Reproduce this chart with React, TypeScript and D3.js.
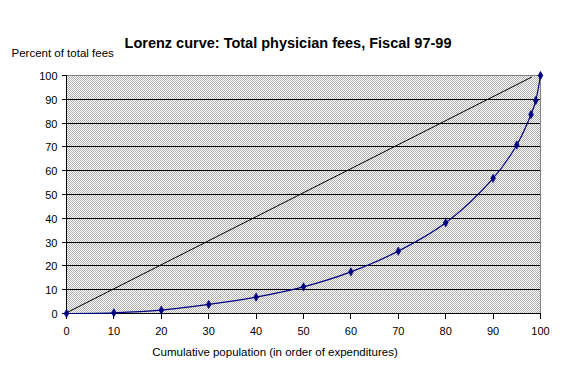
import React from "react";
import * as d3 from "d3";

const populationPct = [0, 10, 20, 30, 40, 50, 60, 70, 80, 90, 95, 98, 99, 100];
const feesPct = [0, 0.3, 1.4, 3.8, 6.9, 11.2, 17.5, 26.2, 38.1, 56.8, 70.8, 83.6, 89.5, 100];
const equalityX = [0, 98.2];
const equalityY = [0.3, 99.4];
const xTicks = [0, 10, 20, 30, 40, 50, 60, 70, 80, 90, 100];
const yTicks = [0, 10, 20, 30, 40, 50, 60, 70, 80, 90, 100];

const W = 563;
const H = 379;
const FONT = "Arial, 'Liberation Sans', Helvetica, sans-serif";

export default function App() {
  const x = d3.scaleLinear().domain([0, 100]).range([66.5, 540.5]);
  const y = d3.scaleLinear().domain([0, 100]).range([313.5, 75.5]);
  const crisp = (v: number) => Math.round(v - 0.5) + 0.5;

  const curvePts: [number, number][] = populationPct.map((p, i) => [x(p), y(feesPct[i])]);
  const curvePath = d3.line().curve(d3.curveCatmullRom.alpha(0.5))(curvePts) || "";
  const diagPts: [number, number][] = equalityX.map((p, i) => [x(p), y(equalityY[i])]);
  const diagPath = d3.line()(diagPts) || "";
  const diamond = d3.symbol().type(d3.symbolDiamond).size(20)() || "";

  const x0 = x(0), x1 = x(100), yTop = y(100), yBot = y(0);

  return (
    <svg width={W} height={H} style={{ position: "absolute", left: 0, top: 0, background: "#fff" }}>
      <defs>
        <pattern id="hatch" patternUnits="userSpaceOnUse" x={0} y={0} width={2} height={2}>
          <rect x={0} y={0} width={2} height={2} fill="#ffffff" shapeRendering="crispEdges" />
          <rect x={0} y={0} width={1} height={1} fill="#b0b0b0" shapeRendering="crispEdges" />
          <rect x={1} y={1} width={1} height={1} fill="#b0b0b0" shapeRendering="crispEdges" />
        </pattern>
      </defs>
      <rect x={0} y={0} width={W} height={H} fill="#fff" />
      <rect x={x0 - 0.5} y={yTop - 0.5} width={x1 - x0 + 1} height={yBot - yTop + 1} fill="url(#hatch)" shapeRendering="crispEdges" />
      {/* gridlines */}
      {yTicks.filter(t => t > 0 && t < 100).map(t => (
        <line key={"g" + t} x1={x0} x2={x1} y1={crisp(y(t))} y2={crisp(y(t))} stroke="#000" strokeWidth={1} shapeRendering="crispEdges" />
      ))}
      {/* plot border top/right */}
      <line x1={x0} x2={x1} y1={yTop} y2={yTop} stroke="#808080" shapeRendering="crispEdges" />
      <line x1={x1} x2={x1} y1={yTop} y2={yBot} stroke="#808080" shapeRendering="crispEdges" />
      {/* axes */}
      <line x1={x0} x2={x0} y1={yTop} y2={yBot} stroke="#000" shapeRendering="crispEdges" />
      <line x1={x0} x2={x1} y1={yBot} y2={yBot} stroke="#000" shapeRendering="crispEdges" />
      {yTicks.map(t => (
        <g key={"yt" + t}>
          <line x1={x0 - 5} x2={x0} y1={crisp(y(t))} y2={crisp(y(t))} stroke="#000" shapeRendering="crispEdges" />
          <text x={57.5} y={crisp(y(t)) + 4} textAnchor="end" fontFamily={FONT} fontSize={11} fill="#000">{t}</text>
        </g>
      ))}
      {xTicks.map(t => (
        <g key={"xt" + t}>
          <line x1={crisp(x(t))} x2={crisp(x(t))} y1={yBot} y2={yBot + 5} stroke="#000" shapeRendering="crispEdges" />
          <text x={x(t)} y={334.5} textAnchor="middle" fontFamily={FONT} fontSize={11} fill="#000">{t}</text>
        </g>
      ))}
      {/* equality line */}
      <path d={diagPath} fill="none" stroke="#000" strokeWidth={1} />
      {/* Lorenz curve */}
      <path d={curvePath} fill="none" stroke="#000080" strokeWidth={1.2} />
      {curvePts.map((p, i) => (
        <path key={"m" + i} d={diamond} transform={`translate(${p[0]},${p[1]})`} fill="#000080" stroke="#000080" strokeWidth={0.6} />
      ))}
      {/* titles */}
      <text x={288} y={47.5} textAnchor="middle" fontFamily={FONT} fontSize={14.5} fontWeight="bold" fill="#000">
        Lorenz curve: Total physician fees, Fiscal 97-99
      </text>
      <text x={11.5} y={56.5} fontFamily={FONT} fontSize={11.5} fill="#000">Percent of total fees</text>
      <text x={275} y={356} textAnchor="middle" fontFamily={FONT} fontSize={11.5} fill="#000">
        Cumulative population (in order of expenditures)
      </text>
    </svg>
  );
}
